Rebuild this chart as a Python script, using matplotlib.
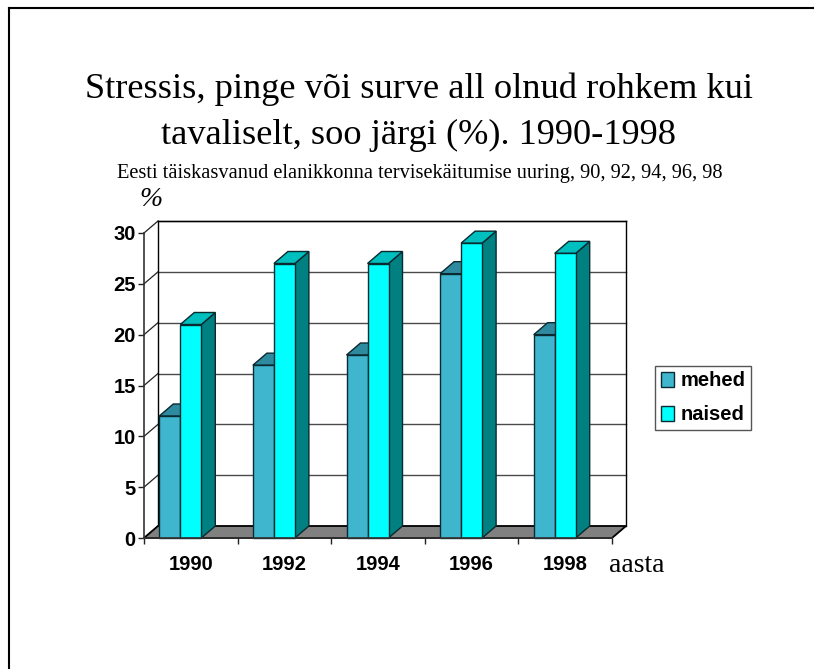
import matplotlib
matplotlib.use("Agg")
import matplotlib.pyplot as plt
from matplotlib.patches import Polygon, Patch
from matplotlib.lines import Line2D

years = ["1990", "1992", "1994", "1996", "1998"]
mehed = [12, 17, 18, 26, 20]
naised = [21, 27, 27, 29, 28]
y_ticks = [0, 5, 10, 15, 20, 25, 30]

W, H = 814, 669
fig = plt.figure(figsize=(W / 100, H / 100), dpi=100, facecolor="white")

# plot area in pixels: front axis 144..612, 0 at y=538, 30 at y=233
ax = fig.add_axes([144 / W, 1 - 538 / H, 468 / W, 305 / H])
ax.set_xlim(0, 5)
ax.set_ylim(0, 30)
ax.patch.set_alpha(0)

# depth of the fake 3d, in data units
dx = 14 / 93.6
dy = 12 / 10.167
bar_w = 21 / 93.6
bar_off = 15.3 / 93.6


def poly(points, color, z, edge="#0a2a30", lw=1.0):
    ax.add_patch(Polygon(points, closed=True, facecolor=color, edgecolor=edge,
                         linewidth=lw, zorder=z, clip_on=False, joinstyle="miter"))


def bar3d(x, h, front, top, side, z):
    poly([(x + bar_w, 0), (x + bar_w + dx, dy), (x + bar_w + dx, h + dy), (x + bar_w, h)], side, z)
    poly([(x, h), (x + dx, h + dy), (x + bar_w + dx, h + dy), (x + bar_w, h)], top, z)
    poly([(x, 0), (x + bar_w, 0), (x + bar_w, h), (x, h)], front, z)


# back wall and grid
for v in y_ticks:
    ax.plot([0, dx], [v, v + dy], color="#222222", lw=0.9, zorder=1, clip_on=False)
    if v > 0:
        ax.plot([dx, 5 + dx], [v + dy, v + dy], color="#4a4a4a", lw=1.0, zorder=1, clip_on=False)
ax.plot([dx, dx], [dy, 30 + dy], color="black", lw=1.0, zorder=1, clip_on=False)
ax.plot([5 + dx, 5 + dx], [dy, 30 + dy], color="black", lw=1.0, zorder=1, clip_on=False)
ax.plot([dx, 5 + dx], [30 + dy, 30 + dy], color="black", lw=1.0, zorder=1, clip_on=False)

# floor
poly([(0, 0), (5, 0), (5 + dx, dy), (dx, dy)], "#808080", 2, edge="black", lw=1.3)

for i in range(len(years)):
    x = i + bar_off
    bar3d(x, mehed[i], "#40B5CE", "#2E8A9E", "#1F6F80", 3 + i * 2)
    bar3d(x + bar_w, naised[i], "#00FFFF", "#00BFBF", "#008080", 4 + i * 2)

for s in ["top", "right"]:
    ax.spines[s].set_visible(False)
for s in ["left", "bottom"]:
    ax.spines[s].set_color("#333333")
    ax.spines[s].set_linewidth(1.2)
    ax.spines[s].set_zorder(20)

ax.set_yticks(y_ticks)
ax.set_xticks(range(6))
ax.set_xticklabels([])
ax.set_xticks([i + 0.5 for i in range(5)], minor=True)
ax.set_xticklabels(years, minor=True, family="Liberation Sans", fontweight="bold", fontsize=14.5)
ax.tick_params(axis="x", which="major", length=4, width=1, color="#222222")
ax.tick_params(axis="x", which="minor", length=0, pad=12)
ax.tick_params(axis="y", length=4, width=1, color="#222222", pad=2, labelsize=14.5)
for t in ax.get_yticklabels():
    t.set_family("Liberation Sans")
    t.set_fontweight("bold")

serif = "Liberation Serif"
fig.text(418.5 / W, 1 - 89 / H, "Stressis, pinge või surve all olnud rohkem kui", family=serif,
         fontsize=26.2, ha="center", va="center")
fig.text(418.5 / W, 1 - 135 / H, "tavaliselt, soo järgi (%). 1990-1998", family=serif,
         fontsize=26.2, ha="center", va="center")
fig.text(419.5 / W, 1 - 173.5 / H, "Eesti täiskasvanud elanikkonna tervisekäitumise uuring, 90, 92, 94, 96, 98",
         family=serif, fontsize=14.7, ha="center", va="center")
fig.text(151 / W, 1 - 199 / H, "%", family=serif, style="italic", fontsize=20, ha="center", va="center")
fig.text(637 / W, 1 - 565 / H, "aasta", family=serif, fontsize=20, ha="center", va="center")

handles = [Patch(facecolor="#40B5CE", edgecolor="#0a2a30", label="mehed"),
           Patch(facecolor="#00FFFF", edgecolor="#0a2a30", label="naised")]
leg = fig.legend(handles=handles, loc="lower left", bbox_to_anchor=(655 / W, 1 - 430 / H),
                 borderaxespad=0, fancybox=False, framealpha=1, edgecolor="#555555",
                 handlelength=0.68, handleheight=0.8, handletextpad=0.32, labelspacing=0.75,
                 borderpad=0.28, prop={"family": "Liberation Sans", "weight": "bold", "size": 14.5})
leg.get_frame().set_linewidth(1.0)

# outer slide frame
fig.add_artist(Line2D([9 / W, 9 / W], [0, 1 - 8 / H], color="black", lw=1.5))
fig.add_artist(Line2D([9 / W, 1], [1 - 8 / H, 1 - 8 / H], color="black", lw=1.5))

fig.savefig("out.png", dpi=100)
